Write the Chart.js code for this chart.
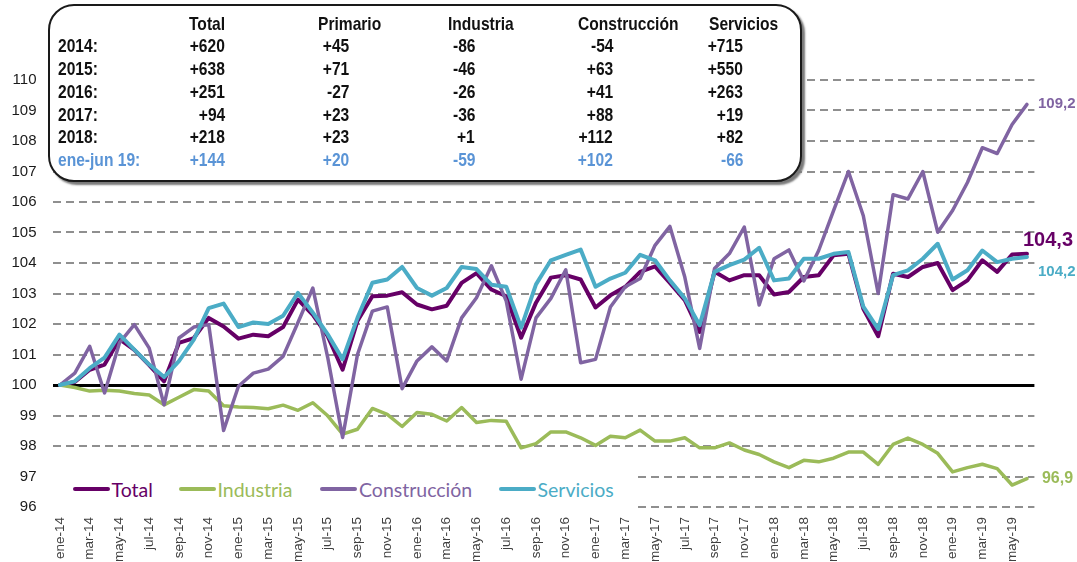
<!DOCTYPE html>
<html lang="es">
<head>
<meta charset="utf-8">
<title>Afiliación por sectores 2014-2019</title>
<script src="https://cdn.jsdelivr.net/npm/chart.js@4.4.1/dist/chart.umd.min.js"></script>
<style>
  html, body { margin: 0; padding: 0; background: #fff; }
  #wrap { position: relative; width: 1077px; height: 562px; overflow: hidden; }
  #chart { position: absolute; left: 0; top: 0; }
  .box {
    position: absolute; left: 48px; top: 4px; width: 750px; height: 174px;
    border: 2px solid #1a1a1a; border-radius: 26px; background: #fff;
    box-shadow: 3px 3px 2px #7a7a7a;
  }
  .cell {
    position: absolute; font: bold 19px 'Liberation Sans', Arial, sans-serif;
    line-height: 22px; white-space: nowrap; color: #111;
  }
  .l { transform-origin: left center; transform: scaleX(0.82); }
  .r { transform-origin: right center; transform: scaleX(0.82); }
  .blue { color: #5a94d6; }
  #legend {
    position: absolute; left: 50px; top: 468px; width: 583px; height: 42px;
    background: #fff;
  }
  .item {
    position: absolute; top: 0; height: 42px; display: flex; align-items: center;
    font: 19.5px Lato, 'Open Sans', sans-serif; white-space: nowrap;
  }
  .swatch { width: 37px; height: 4px; margin-right: 2px; border-radius: 2px; }
</style>
</head>
<body>
<div id="wrap">
  <canvas id="chart" width="1077" height="562"></canvas>
  <div class="box"></div>
  <div id="table"></div>
  <div id="legend"></div>
</div>
<script>
// ── Categories (monthly, ene-14 .. jun-19)
const months = [
  'ene-14','feb-14','mar-14','abr-14','may-14','jun-14','jul-14','ago-14','sep-14','oct-14','nov-14','dic-14',
  'ene-15','feb-15','mar-15','abr-15','may-15','jun-15','jul-15','ago-15','sep-15','oct-15','nov-15','dic-15',
  'ene-16','feb-16','mar-16','abr-16','may-16','jun-16','jul-16','ago-16','sep-16','oct-16','nov-16','dic-16',
  'ene-17','feb-17','mar-17','abr-17','may-17','jun-17','jul-17','ago-17','sep-17','oct-17','nov-17','dic-17',
  'ene-18','feb-18','mar-18','abr-18','may-18','jun-18','jul-18','ago-18','sep-18','oct-18','nov-18','dic-18',
  'ene-19','feb-19','mar-19','abr-19','may-19','jun-19'
];

// ── Series (index, ene-14 = 100)
const total = [
  100, 100.1, 100.5, 100.67, 101.5, 101.15, 100.65, 100.12, 101.38, 101.54, 102.2, 101.92,
  101.52, 101.65, 101.6, 101.9, 102.8, 102.3, 101.6, 100.5, 102.1, 102.91, 102.93, 103.04,
  102.64, 102.48, 102.6, 103.35, 103.67, 103.13, 102.91, 101.55, 102.7, 103.52, 103.6, 103.46,
  102.54, 102.94, 103.22, 103.71, 103.89, 103.35, 102.78, 101.74, 103.71, 103.43, 103.6, 103.6,
  102.97, 103.05, 103.54, 103.6, 104.25, 104.3, 102.5, 101.6, 103.65, 103.54, 103.87, 104.0,
  103.11, 103.43, 104.09, 103.71, 104.28, 104.3
];
const industria = [
  100, 99.92, 99.8, 99.83, 99.8, 99.72, 99.67, 99.35, 99.6, 99.85, 99.8, 99.32,
  99.28, 99.26, 99.22, 99.34, 99.17, 99.42, 98.99, 98.39, 98.55, 99.23, 99.04, 98.64,
  99.1, 99.04, 98.82, 99.26, 98.77, 98.84, 98.81, 97.94, 98.08, 98.46, 98.46, 98.27,
  98.02, 98.32, 98.27, 98.52, 98.16, 98.16, 98.27, 97.94, 97.94, 98.1, 97.87, 97.72,
  97.48, 97.29, 97.53, 97.48, 97.6, 97.8, 97.8, 97.4, 98.05, 98.26, 98.05, 97.76,
  97.15, 97.29, 97.4, 97.26, 96.72, 96.93
];
const construccion = [
  100, 100.39, 101.27, 99.74, 101.38, 101.98, 101.21, 99.35, 101.54, 101.9, 101.98, 98.51,
  99.96, 100.39, 100.52, 100.94, 102.05, 103.18, 100.9, 98.28, 101.0, 102.42, 102.56, 99.88,
  100.79, 101.25, 100.79, 102.2, 102.86, 103.91, 102.75, 100.19, 102.2, 102.84, 103.78, 100.73,
  100.84, 102.56, 103.22, 103.49, 104.58, 105.2, 103.54, 101.2, 103.82, 104.31, 105.18, 102.62,
  104.14, 104.43, 103.41, 104.41, 105.72, 107.0, 105.55, 103.0, 106.24, 106.1, 107.0, 105.01,
  105.72, 106.64, 107.78, 107.59, 108.54, 109.2
];
const servicios = [
  100, 100.12, 100.55, 100.9, 101.65, 101.16, 100.67, 100.26, 100.78, 101.49, 102.52, 102.67,
  101.9, 102.05, 102.0, 102.27, 103.02, 102.37, 101.66, 100.84, 102.2, 103.35, 103.46, 103.87,
  103.18, 102.93, 103.18, 103.87, 103.8, 103.29, 103.22, 101.88, 103.3, 104.09, 104.27, 104.44,
  103.22, 103.49, 103.68, 104.27, 104.09, 103.43, 102.84, 101.96, 103.71, 103.93, 104.11, 104.5,
  103.43, 103.49, 104.14, 104.14, 104.3, 104.36, 102.57, 101.83, 103.6, 103.76, 104.14, 104.63,
  103.46, 103.76, 104.41, 104.03, 104.14, 104.2
];
const seriesNames = ['Total', 'Industria', 'Construcción', 'Servicios'];
const endLabels = ['104,3', '96,9', '109,2', '104,2'];

// ── Y ticks
const yMin = 96, yMax = 110, yStep = 1;

// ── Summary table (afiliados, miles)
const tableHeaders = ['Total', 'Primario', 'Industria', 'Construcción', 'Servicios'];
const tableRows = ['2014:', '2015:', '2016:', '2017:', '2018:', 'ene-jun 19:'];
const colTotal = ['+620', '+638', '+251', '+94', '+218', '+144'];
const colPrimario = ['+45', '+71', '-27', '+23', '+23', '+20'];
const colIndustria = ['-86', '-46', '-26', '-36', '+1', '-59'];
const colConstruccion = ['-54', '+63', '+41', '+88', '+112', '+102'];
const colServicios = ['+715', '+550', '+263', '+19', '+82', '-66'];

// ── Styles
const colors = ['#660066', '#9bbb59', '#8064a2', '#4bacc6'];
const widths = [4, 3.5, 3.5, 4];
const orders = [4, 3, 2, 1];   // servicios drawn on top, like the Excel original
const legendLeft = [22.5, 128.5, 270, 448.5];
const endStyle = [
  { font: 'bold 20px "Liberation Sans", Arial', dx: -4, dy: -13 },
  { font: 'bold 16px "Liberation Sans", Arial', dx: 15, dy: 0 },
  { font: 'bold 15px "Liberation Sans", Arial', dx: 11, dy: -1 },
  { font: 'bold 15px "Liberation Sans", Arial', dx: 11, dy: 15 },
];

// ── Table (HTML overlay)
function buildTable() {
  const el = document.getElementById('table');
  const headLeft = [189, 318, 448, 578, 709];
  const numRight = [225, 349, 475, 613, 743];
  const cols = [colTotal, colPrimario, colIndustria, colConstruccion, colServicios];
  const rowY = k => 23.5 + 22.75 * k - 11;
  let html = '';
  tableHeaders.forEach((h, c) => {
    html += `<span class="cell l" style="left:${headLeft[c]}px;top:${rowY(0)}px">${h}</span>`;
  });
  tableRows.forEach((r, k) => {
    const cls = k === tableRows.length - 1 ? ' blue' : '';
    html += `<span class="cell l${cls}" style="left:58px;top:${rowY(k + 1)}px">${r}</span>`;
    cols.forEach((col, c) => {
      html += `<span class="cell r${cls}" style="right:${1077 - numRight[c]}px;top:${rowY(k + 1)}px">${col[k]}</span>`;
    });
  });
  el.innerHTML = html;
}

const endLabelPlugin = {
  id: 'endLabels',
  afterDatasetsDraw(chart) {
    const ctx = chart.ctx;
    chart.data.datasets.forEach((ds, i) => {
      const meta = chart.getDatasetMeta(i);
      const pt = meta.data[meta.data.length - 1];
      const st = endStyle[i];
      ctx.save();
      ctx.font = st.font;
      ctx.fillStyle = colors[i];
      ctx.textBaseline = 'middle';
      ctx.textAlign = 'left';
      ctx.fillText(endLabels[i], pt.x + st.dx, pt.y + st.dy);
      ctx.restore();
    });
  }
};

const series = [total, industria, construccion, servicios];

const chart = new Chart(document.getElementById('chart'), {
  type: 'line',
  data: {
    labels: months,
    datasets: series.map((d, i) => ({
      label: seriesNames[i],
      data: d,
      borderColor: colors[i],
      backgroundColor: colors[i],
      borderWidth: widths[i],
      order: orders[i],
      pointRadius: 0,
      tension: 0,
      borderJoinStyle: 'round',
      borderCapStyle: 'round',
    }))
  },
  options: {
    responsive: false,
    animation: false,
    layout: { padding: { top: 80, right: 42.6, left: 0, bottom: 0 } },
    plugins: { legend: { display: false }, tooltip: { enabled: false } },
    scales: {
      x: {
        offset: true,
        grid: { display: false, drawTicks: false },
        border: { display: false },
        afterFit: s => { s.height = 55; },
        ticks: {
          autoSkip: false, minRotation: 90, maxRotation: 90, padding: 10,
          color: '#404040', font: { family: '"Liberation Sans", Arial', size: 13.5 },
          callback: (v, i) => (i % 2 === 0 ? months[i] : ''),
        },
      },
      y: {
        min: yMin, max: yMax,
        afterFit: s => { s.width = 52.5; },
        grid: {
          drawTicks: false,
          color: c => (c.tick && c.tick.value === 100 ? '#000' : '#8f8f8f'),
          lineWidth: c => (c.tick && c.tick.value === 100 ? 3 : 2),
        },
        border: { display: false, dash: c => (c.tick && c.tick.value === 100 ? [] : [8, 5]) },
        ticks: {
          stepSize: yStep, padding: 16, color: '#1a1a1a',
          font: { family: '"Liberation Sans", Arial', size: 15 },
        },
      },
    },
  },
  plugins: [endLabelPlugin],
});

// ── HTML legend (sits inside the plot, like the original)
document.getElementById('legend').innerHTML = chart.data.datasets.map((ds, i) =>
  `<span class="item" style="left:${legendLeft[i]}px;color:${ds.borderColor}"><span class="swatch" style="background:${ds.borderColor}"></span>${ds.label}</span>`
).join('');

buildTable();
</script>
</body>
</html>
